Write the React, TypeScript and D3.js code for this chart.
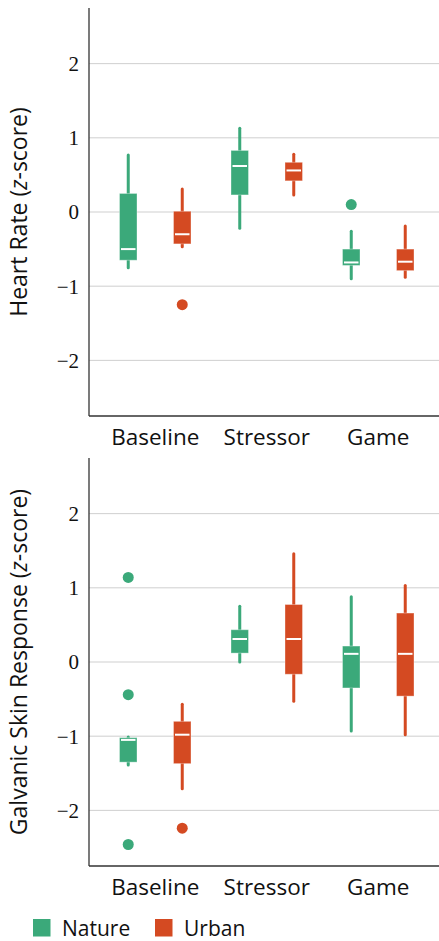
import React from 'react';
import * as d3 from 'd3';

const categories = ['Baseline', 'Stressor', 'Game'];
const groups = ['Nature', 'Urban'];
const colors = ['#3ba97a', '#d44a22'];
const yTicks = [-2, -1, 0, 1, 2];

// [whisker low, q1, median, q3, whisker high] per category
const hrNature = [
  [-0.75, -0.65, -0.5, 0.25, 0.77],
  [-0.22, 0.23, 0.62, 0.83, 1.13],
  [-0.9, -0.72, -0.68, -0.5, -0.26],
];
const hrUrban = [
  [-0.47, -0.43, -0.3, 0.01, 0.31],
  [0.23, 0.42, 0.56, 0.67, 0.78],
  [-0.88, -0.79, -0.67, -0.5, -0.19],
];
const hrNatureOutliers = [[], [], [0.1]];
const hrUrbanOutliers = [[-1.25], [], []];

const gsrNature = [
  [-1.39, -1.35, -1.05, -1.02, -1.01],
  [0.0, 0.12, 0.31, 0.435, 0.75],
  [-0.93, -0.35, 0.11, 0.215, 0.88],
];
const gsrUrban = [
  [-1.71, -1.37, -0.98, -0.8, -0.57],
  [-0.53, -0.165, 0.31, 0.775, 1.46],
  [-0.98, -0.46, 0.11, 0.66, 1.03],
];
const gsrNatureOutliers = [[1.14, -0.44, -2.46], [], []];
const gsrUrbanOutliers = [[-2.24], [], []];

const W = 439;
const H = 941;
const axisX = 89;
const sans = '"Open Sans", sans-serif';
const serif = '"Liberation Serif", serif';

const x = d3.scaleBand().domain(categories).range([99.5, 434]).padding(0);
const sub = d3.scalePoint().domain(groups).range([-27, 27]);
const boxW = 17.5;
const fmt = d3.format('d');

type PanelProps = {
  top: number;
  bottom: number;
  title: string;
  stats: number[][][];
  outliers: number[][][];
};

const Panel = ({ top, bottom, title, stats, outliers }: PanelProps) => {
  const y = d3.scaleLinear().domain([-2.75, 2.75]).range([bottom, top]);
  const mid = (top + bottom) / 2;
  return (
    <g>
      {yTicks.map(t => (
        <g key={t}>
          <line x1={axisX} x2={W} y1={y(t)} y2={y(t)} stroke="#cfcfcf" strokeWidth={1} />
          <text x={79} y={y(t)} dy="0.35em" textAnchor="end" fontFamily={serif} fontSize={21} fill="#111">
            {fmt(t)}
          </text>
        </g>
      ))}
      <line x1={axisX} x2={axisX} y1={top} y2={bottom} stroke="#333" strokeWidth={1.3} />
      <line x1={axisX} x2={W} y1={bottom} y2={bottom} stroke="#333" strokeWidth={1.3} />
      {categories.map(c => (
        <text key={c} x={(x(c) || 0) + x.bandwidth() / 2} y={bottom + 29} textAnchor="middle" fontFamily={sans} fontSize={22.5} fill="#111">
          {c}
        </text>
      ))}
      {groups.map((g, gi) =>
        categories.map((c, ci) => {
          const [lo, q1, med, q3, hi] = stats[gi][ci];
          const cx = (x(c) || 0) + x.bandwidth() / 2 + (sub(g) || 0);
          return (
            <g key={g + c}>
              <line x1={cx} x2={cx} y1={y(lo)} y2={y(hi)} stroke={colors[gi]} strokeWidth={3} strokeLinecap="round" />
              <rect x={cx - boxW / 2} y={y(q3)} width={boxW} height={y(q1) - y(q3)} fill={colors[gi]} stroke="#fff" strokeOpacity={0.35} strokeWidth={1} />
              <line x1={cx - boxW / 2 + 1.5} x2={cx + boxW / 2 - 1.5} y1={y(med)} y2={y(med)} stroke="#fff" strokeWidth={2} />
              {outliers[gi][ci].map((o, oi) => (
                <circle key={oi} cx={cx} cy={y(o)} r={5.5} fill={colors[gi]} />
              ))}
            </g>
          );
        })
      )}
      <text transform={`translate(27,${mid}) rotate(-90)`} textAnchor="middle" fontFamily={sans} fontSize={23} fill="#111">
        {title}(<tspan fontStyle="italic">z</tspan>-score)
      </text>
    </g>
  );
};

const App = () => {
  return (
    <svg width={W} height={H} style={{ position: 'absolute', left: 0, top: 0, background: '#fff' }}>
      <rect width={W} height={H} fill="#fff" />
      <Panel top={8} bottom={416} title="Heart Rate " stats={[hrNature, hrUrban]} outliers={[hrNatureOutliers, hrUrbanOutliers]} />
      <Panel top={458} bottom={866} title="Galvanic Skin Response " stats={[gsrNature, gsrUrban]} outliers={[gsrNatureOutliers, gsrUrbanOutliers]} />
      {groups.map((g, gi) => (
        <g key={g} transform={`translate(${[33, 155][gi]},919)`}>
          <rect width={17.5} height={17.5} fill={colors[gi]} />
          <text x={29} y={16.5} fontFamily={sans} fontSize={21} fill="#111">{g}</text>
        </g>
      ))}
    </svg>
  );
};

export default App;
